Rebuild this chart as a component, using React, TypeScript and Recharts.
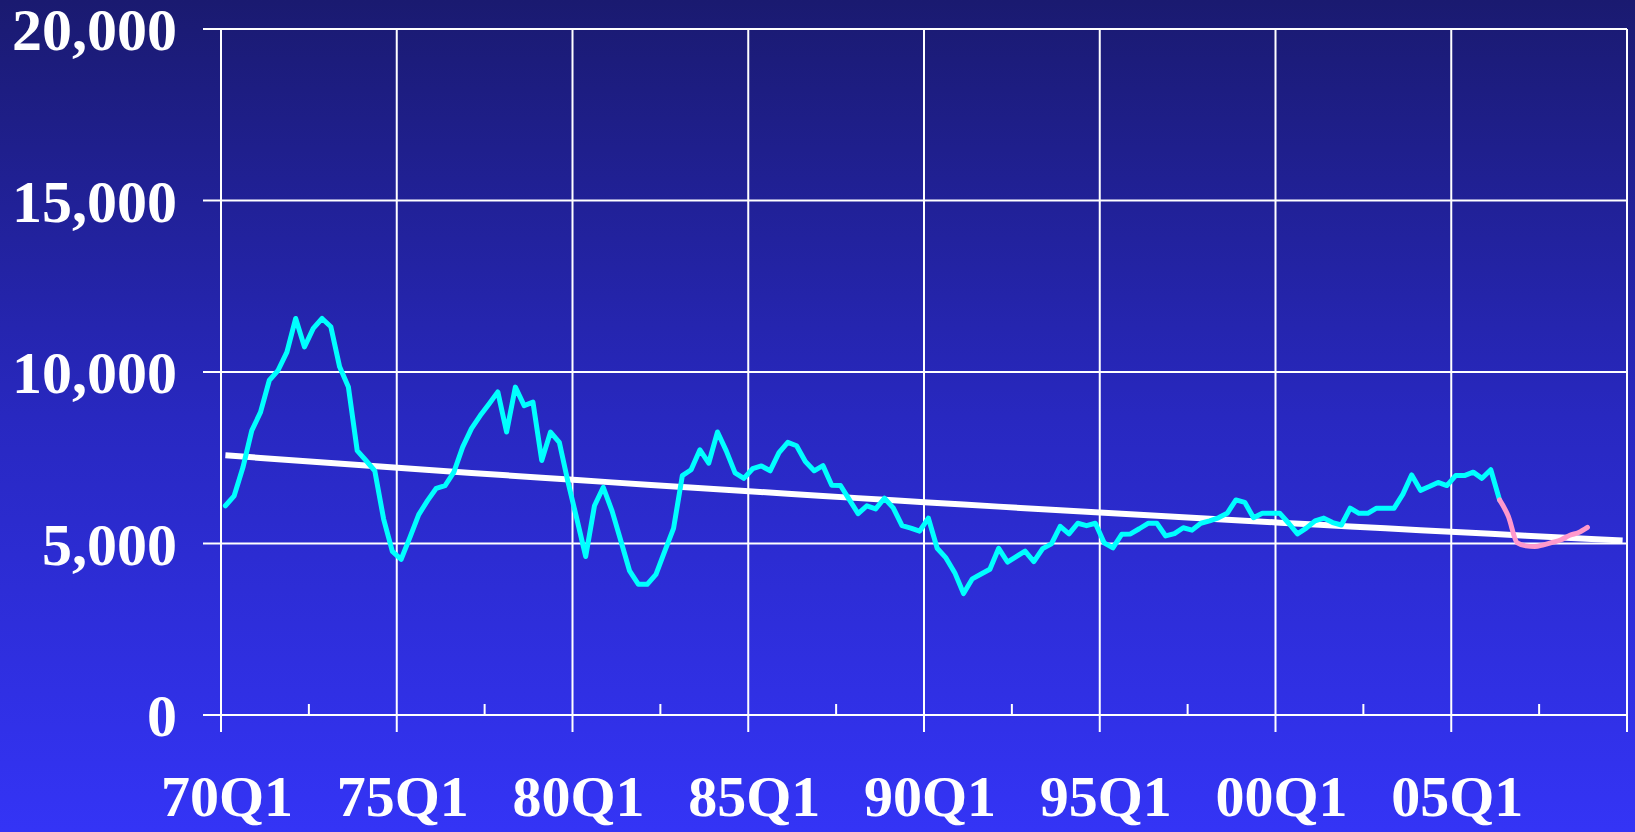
import React from "react";
import { LineChart, Line, XAxis, YAxis, CartesianGrid, ReferenceLine } from "recharts";

// quarterly series, 70Q1 .. 06Q2
const actual = [
  6100, 6390, 7220, 8290, 8830, 9760, 10050, 10580, 11560, 10730,
  11270, 11560, 11320, 10150, 9560, 7710, 7420, 7120, 5720, 4770,
  4540, 5180, 5840, 6250, 6610, 6690, 7080, 7810, 8350, 8730,
  9070, 9420, 8250, 9560, 9020, 9120, 7420, 8250, 7950, 6780,
  5710, 4620, 6100, 6640, 5950, 5080, 4200, 3810, 3810, 4100,
  4780, 5440, 6980, 7150, 7730, 7340, 8250, 7700, 7060, 6900,
  7180, 7260, 7120, 7650, 7950, 7850, 7390, 7120, 7270, 6700,
  6690, 6280, 5870, 6100, 6010, 6320, 6040, 5520, 5450, 5360,
  5740, 4860, 4580, 4150, 3540, 3970, 4110, 4250, 4860, 4460,
  4620, 4780, 4470, 4850, 4990, 5500, 5280, 5590, 5520, 5590,
  5020, 4870, 5270, 5280, 5430, 5590, 5590, 5220, 5290, 5460,
  5390, 5590, 5660, 5750, 5880, 6270, 6200, 5750, 5880, 5880,
  5880, 5590, 5280, 5450, 5660, 5740, 5610, 5540, 6030, 5880,
  5880, 6030, 6030, 6030, 6440, 7000, 6550, 6660, 6780, 6690,
  6980, 6980, 7080, 6900, 7150, 6270,
];

// projection, 06Q2 .. 08Q4
const projected = [6270, 5790, 5020, 4930, 4910, 4960, 5030, 5110, 5240, 5320, 5470];

// long-run trend, value at each Q1 from 1970 to 2009, then 09Q4
const trend = [
  7570, 7495, 7420, 7346, 7273, 7201, 7129, 7058, 6988, 6919,
  6850, 6782, 6714, 6647, 6581, 6516, 6451, 6387, 6323, 6260,
  6198, 6136, 6075, 6015, 5955, 5896, 5837, 5779, 5722, 5665,
  5608, 5553, 5497, 5443, 5388, 5335, 5282, 5229, 5177, 5126,
];
const trendEnd = 5087;

const quarterCount = 160; // 70Q1 .. 09Q4
const majorTicks = [0, 20, 40, 60, 80, 100, 120, 140, 160];
const minorTicks = [10, 30, 50, 70, 90, 110, 130, 150];
const tickLabels = ["70Q1", "75Q1", "80Q1", "85Q1", "90Q1", "95Q1", "00Q1", "05Q1"];
const yTicks = [0, 5000, 10000, 15000, 20000];

const projStart = actual.length - 1;

const data = Array.from({ length: quarterCount }, (_, q) => ({
  x: q + 0.5,
  actual: q < actual.length ? actual[q] : null,
  projected: q >= projStart && q - projStart < projected.length ? projected[q - projStart] : null,
  trend: q % 4 === 0 ? trend[q / 4] : q === quarterCount - 1 ? trendEnd : null,
}));

const font = "'Liberation Serif', 'Times New Roman', serif";

function QuarterTick(props: any) {
  const { x, y, payload } = props;
  const v = payload.value;
  const major = v % 20 === 0;
  const label = major ? tickLabels[v / 20] : undefined;
  return (
    <g>
      {major ? (
        <line x1={x} x2={x} y1={y} y2={y + 17} stroke="#fff" strokeWidth={2} />
      ) : (
        <line x1={x} x2={x} y1={y - 11} y2={y} stroke="#fff" strokeWidth={2} />
      )}
      {label && (
        <text
          x={x + 6}
          y={y + 101}
          textAnchor="middle"
          fill="#fff"
          fontSize={58}
          fontWeight="bold"
          fontFamily={font}
        >
          {label}
        </text>
      )}
    </g>
  );
}

export default function App() {
  return (
    <div
      style={{
        position: "absolute",
        left: 0,
        top: 0,
        width: 1635,
        height: 832,
        background: "linear-gradient(to bottom, #1a1a70 0%, #2828c0 50%, #3434f6 100%)",
      }}
    >
      <LineChart
        width={1635}
        height={832}
        data={data}
        margin={{ top: 29, right: 8, bottom: 0, left: 0 }}
      >
        <CartesianGrid vertical={false} stroke="#fff" strokeWidth={2} />
        {majorTicks.map((t) => (
          <ReferenceLine key={t} x={t} stroke="#fff" strokeWidth={2} />
        ))}
        <XAxis
          type="number"
          dataKey="x"
          domain={[0, quarterCount]}
          ticks={[...majorTicks, ...minorTicks].sort((a, b) => a - b)}
          interval={0}
          height={117}
          tickLine={false}
          tickSize={0}
          tickMargin={0}
          axisLine={{ stroke: "#fff", strokeWidth: 2 }}
          tick={<QuarterTick />}
        />
        <YAxis
          type="number"
          domain={[0, 20000]}
          ticks={yTicks}
          interval={0}
          width={221}
          tickSize={18}
          tickMargin={26}
          tickLine={{ stroke: "#fff", strokeWidth: 2 }}
          axisLine={{ stroke: "#fff", strokeWidth: 2 }}
          tickFormatter={(v: number) => v.toLocaleString("en-US")}
          tick={{ fill: "#fff", fontSize: 60, fontWeight: "bold", fontFamily: font }}
        />
        <Line
          dataKey="trend"
          stroke="#fff"
          strokeWidth={6}
          dot={false}
          connectNulls
          isAnimationActive={false}
        />
        <Line
          dataKey="actual"
          stroke="#00ffff"
          strokeWidth={5}
          strokeLinejoin="round"
          strokeLinecap="round"
          dot={false}
          isAnimationActive={false}
        />
        <Line
          type="monotone"
          dataKey="projected"
          stroke="#ff99cc"
          strokeWidth={5}
          strokeLinecap="round"
          dot={false}
          isAnimationActive={false}
        />
      </LineChart>
    </div>
  );
}
